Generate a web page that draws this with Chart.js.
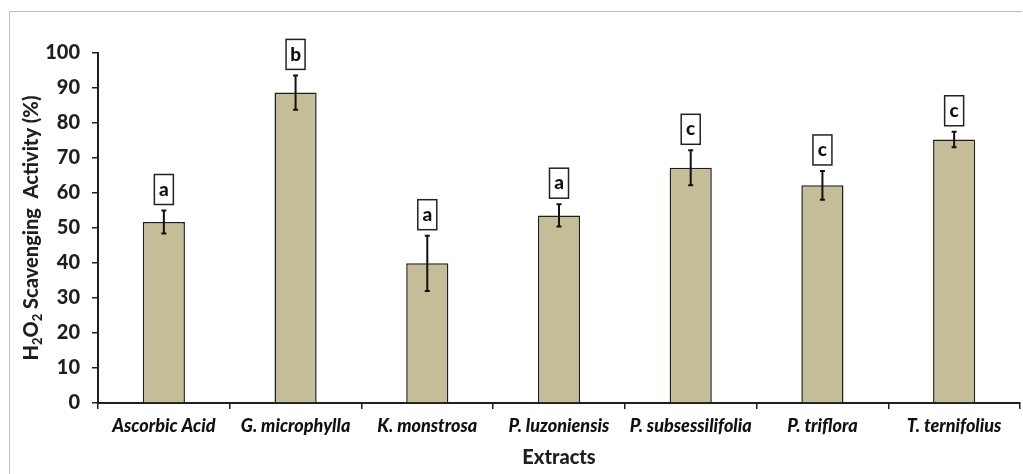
<!DOCTYPE html>
<html>
<head>
<meta charset="utf-8">
<script src="https://cdn.jsdelivr.net/npm/chart.js@4/dist/chart.umd.min.js"></script>
<style>
  html, body { margin: 0; padding: 0; background: #fff; }
  #wrap { position: relative; width: 1023px; height: 474px; }
  #frame { position: absolute; left: 9px; top: 11px; width: 1013px; height: 470px; border-left: 1.5px solid #bdbdbd; border-top: 1.5px solid #bdbdbd; box-sizing: border-box; pointer-events: none; }
  canvas { position: absolute; left: 0; top: 0; }
</style>
</head>
<body>
<div id="wrap">
  <canvas id="c" width="1023" height="474"></canvas>
  <div id="frame"></div>
</div>
<script>
const categories = ["Ascorbic Acid", "G. microphylla", "K. monstrosa", "P. luzoniensis", "P. subsessilifolia", "P. triflora", "T. ternifolius"];
const values = [51.7, 88.7, 39.9, 53.6, 67.2, 62.2, 75.3];
const errors = [3.3, 4.9, 7.9, 3.2, 5.0, 4.1, 2.2];
const letters = ["a", "b", "a", "a", "c", "c", "c"];
const yTicks = [0, 10, 20, 30, 40, 50, 60, 70, 80, 90, 100];

const FONT = "Lato, 'Open Sans', sans-serif";
const DARK = "#1f1f1f";

const errorPlugin = {
  id: "errorBars",
  afterDatasetsDraw(chart) {
    const ctx = chart.ctx;
    const meta = chart.getDatasetMeta(0);
    const y = chart.scales.y;
    ctx.save();
    meta.data.forEach((bar, i) => {
      const x = bar.x;
      const top = y.getPixelForValue(values[i] + errors[i]);
      const bot = y.getPixelForValue(values[i] - errors[i]);
      ctx.strokeStyle = "#111";
      ctx.lineWidth = 2;
      ctx.beginPath();
      ctx.moveTo(x, top); ctx.lineTo(x, bot);
      ctx.moveTo(x - 2.5, top); ctx.lineTo(x + 2.5, top);
      ctx.moveTo(x - 2.5, bot); ctx.lineTo(x + 2.5, bot);
      ctx.stroke();
      const bw = 19, bh = 30, gap = 6;
      const bb = top - gap;
      ctx.fillStyle = "#fff";
      ctx.fillRect(x - bw / 2, bb - bh, bw, bh);
      ctx.lineWidth = 1.5;
      ctx.strokeStyle = "#222";
      ctx.strokeRect(x - bw / 2, bb - bh, bw, bh);
      ctx.fillStyle = "#111";
      ctx.font = "900 19px " + FONT;
      ctx.textAlign = "center";
      ctx.textBaseline = "middle";
      ctx.fillText(letters[i], x, bb - bh / 2);
    });
    ctx.restore();
  }
};

const yTitlePlugin = {
  id: "yTitle",
  afterDraw(chart) {
    const ctx = chart.ctx;
    ctx.save();
    ctx.translate(32, 228);
    ctx.rotate(-Math.PI / 2);
    ctx.fillStyle = DARK;
    ctx.textBaseline = "middle";
    ctx.textAlign = "left";
    const big = "900 20px " + FONT;
    const small = "900 13px " + FONT;
    const parts = [["H", big, 0], ["2", small, 6], ["O", big, 0], ["2", small, 6], [" Scavenging  Activity (%)", big, 0]];
    let total = 0;
    parts.forEach(p => { ctx.font = p[1]; total += ctx.measureText(p[0]).width; });
    let cx = -total / 2;
    parts.forEach(p => {
      ctx.font = p[1];
      ctx.fillText(p[0], cx, p[2]);
      cx += ctx.measureText(p[0]).width;
    });
    ctx.restore();
  }
};

new Chart(document.getElementById("c"), {
  type: "bar",
  data: {
    labels: categories,
    datasets: [{
      data: values,
      backgroundColor: "#c4bd97",
      borderColor: "#1e1e1e",
      borderWidth: 1.5,
      barPercentage: 0.32,
      categoryPercentage: 1.0
    }]
  },
  options: {
    responsive: false,
    animation: false,
    devicePixelRatio: 1,
    layout: { padding: { left: 0, right: 3, top: 53, bottom: 0 } },
    plugins: { legend: { display: false }, tooltip: { enabled: false } },
    scales: {
      x: {
        grid: { display: true, drawOnChartArea: false, drawTicks: true, tickLength: 6, color: DARK, lineWidth: 1.5, offset: true },
        border: { display: true, color: DARK, width: 2 },
        ticks: { color: "#111", font: { family: FONT, size: 18, weight: "900", style: "italic" }, padding: 6, maxRotation: 0, autoSkip: false },
        title: { display: true, text: "Extracts", color: DARK, font: { family: FONT, size: 20, weight: "900" }, padding: { top: 2, bottom: 4 } },
        afterFit(scale) { scale.height = 71; }
      },
      y: {
        min: 0, max: 100,
        afterBuildTicks(scale) { scale.ticks = yTicks.map(v => ({ value: v })); },
        grid: { display: true, drawOnChartArea: false, drawTicks: true, tickLength: 6, color: DARK, lineWidth: 1.5 },
        border: { display: true, color: DARK, width: 2 },
        ticks: { color: DARK, font: { family: FONT, size: 20, weight: "900" }, padding: 12 },
        afterFit(scale) { scale.width = 98; }
      }
    }
  },
  plugins: [errorPlugin, yTitlePlugin]
});
</script>
</body>
</html>
